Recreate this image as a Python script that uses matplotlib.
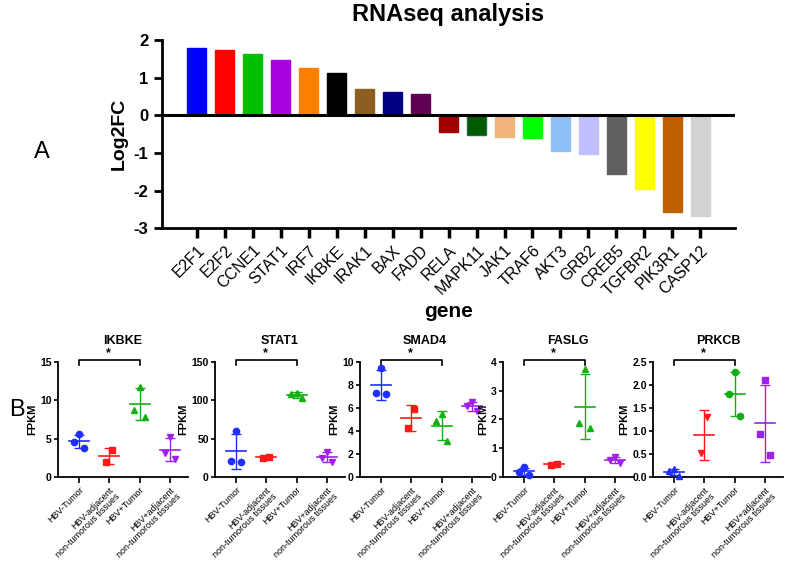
import numpy as np
import matplotlib
matplotlib.use("Agg")
import matplotlib.pyplot as plt
import matplotlib.transforms as mtransforms

plt.rcParams['font.family'] = ['Liberation Sans', 'DejaVu Sans']
plt.rcParams['axes.unicode_minus'] = False

# panel A data
genes = ['E2F1', 'E2F2', 'CCNE1', 'STAT1', 'IRF7', 'IKBKE', 'IRAK1', 'BAX', 'FADD',
         'RELA', 'MAPK11', 'JAK1', 'TRAF6', 'AKT3', 'GRB2', 'CREB5', 'TGFBR2', 'PIK3R1', 'CASP12']
log2fc = [1.80, 1.73, 1.62, 1.47, 1.27, 1.12, 0.70, 0.61, 0.57,
          -0.45, -0.53, -0.58, -0.60, -0.95, -1.02, -1.55, -1.95, -2.57, -2.68]
bar_colors = ['#0000ff', '#ff0000', '#00bf00', '#a800e0', '#ff8000', '#000000', '#8c5e22',
              '#000080', '#600050', '#a00000', '#005a00', '#f0b47c', '#00ff00', '#90c0f8',
              '#c0c0ff', '#606060', '#ffff00', '#c06000', '#d3d3d3']

# panel B data (FPKM)
groups = ['HBV-Tumor', 'HBV-adjacent\nnon-tumorous tissues', 'HBV+Tumor',
          'HBV+adjacent\nnon-tumorous tissues']
ikbke = [[5.6, 4.5, 3.8], [3.5, 2.0], [11.8, 8.8, 7.8], [5.2, 3.1, 2.4]]
stat1 = [[60, 21, 20], [26, 25], [110, 108, 103], [33, 25, 20]]
smad4 = [[9.5, 7.3, 7.2], [5.95, 4.3], [5.45, 4.87, 3.1], [6.5, 6.15, 5.75]]
faslg = [[0.33, 0.19, 0.08], [0.45, 0.43], [3.74, 1.89, 1.69], [0.69, 0.58, 0.5]]
prkcb = [[0.17, 0.12, 0.03], [1.30, 0.53], [2.28, 1.80, 1.33], [2.1, 0.94, 0.47]]

fig = plt.figure(figsize=(7.89, 5.65), dpi=100)

# ---------- A ----------
ax = fig.add_axes([0.205, 0.596, 0.727, 0.333])
x = np.arange(len(genes))
edges = list(bar_colors)
edges[10] = '#1e6b40'
ax.bar(x, log2fc, width=0.68, color=bar_colors, edgecolor=edges, linewidth=1)
ax.axhline(0, color='black', lw=2.2, zorder=3)
ax.set_xlim(-1.25, len(genes) - 1 + 1.25)
ax.set_ylim(-3, 2)
ax.set_yticks([-3, -2, -1, 0, 1, 2])
ax.set_xticks(x)
ax.set_xticklabels(genes, rotation=45, ha='right', rotation_mode='anchor',
                   fontsize=11.5)
for lab in ax.get_yticklabels():
    lab.set_fontweight('bold')
ax.tick_params(axis='y', labelsize=12, width=2, length=6)
ax.tick_params(axis='x', width=2.5, length=7)
for s in ['top', 'right']:
    ax.spines[s].set_visible(False)
for s in ['left', 'bottom']:
    ax.spines[s].set_linewidth(2)
ax.set_ylabel('Log2FC', fontsize=14, fontweight='bold', labelpad=4)
ax.text(0.5, -0.44, 'gene', transform=ax.transAxes, ha='center', va='center',
        fontsize=15, fontweight='bold')
fig.text(0.568, 0.994, 'RNAseq analysis', ha='center', va='top',
         fontsize=17, fontweight='bold')
fig.text(0.053, 1 - 152 / 565, 'A', fontsize=17, ha='center', va='center')

# ---------- B ----------
panels = [('IKBKE', ikbke, [0, 5, 10, 15], ['o', 's', '^', 'v']),
          ('STAT1', stat1, [0, 50, 100, 150], ['o', 's', '^', 'v']),
          ('SMAD4', smad4, [0, 2, 4, 6, 8, 10], ['o', 's', '^', 'v']),
          ('FASLG', faslg, [0, 1, 2, 3, 4], ['o', 's', '^', 'v']),
          ('PRKCB', prkcb, [0, 0.5, 1.0, 1.5, 2.0, 2.5], ['^', 'v', 'o', 's'])]
grp_colors = ['#1f2fff', '#ff1a1a', '#10b010', '#a020e8']
lefts = [58, 215, 360, 503, 653]

for (name, data, yt, mk), lx in zip(panels, lefts):
    bx = fig.add_axes([lx / 789, 0.1558, 130 / 789, 0.2035])
    for i, vals in enumerate(data):
        vals = np.array(vals, dtype=float)
        n = len(vals)
        offs = [0, -0.17, 0.17] if n == 3 else [0.1, -0.1]
        m = vals.mean()
        sd = vals.std(ddof=1)
        c = grp_colors[i]
        bx.plot(i + np.array(offs[:n]), vals, mk[i], color=c, ms=4.5, zorder=4,
                clip_on=False)
        bx.errorbar(i, m, yerr=sd, color=c, lw=1, capsize=3.5, capthick=1, zorder=3)
        bx.plot([i - 0.33, i + 0.33], [m, m], color=c, lw=1.2, zorder=3)
    bx.set_xlim(-0.7, 3.6)
    bx.set_ylim(yt[0], yt[-1])
    bx.set_yticks(yt)
    if name == 'PRKCB':
        bx.set_yticklabels(['%.1f' % v for v in yt])
    bx.set_xticks(range(4))
    bx.set_xticklabels(groups, rotation=45, ha='right', rotation_mode='anchor',
                       fontsize=6.5, linespacing=0.95)
    for lab in bx.get_yticklabels():
        lab.set_fontweight('bold')
    bx.tick_params(axis='y', labelsize=7.5, width=1.2, length=3, pad=1.5)
    bx.tick_params(axis='x', width=1.2, length=4, pad=2)
    for s in ['top', 'right']:
        bx.spines[s].set_visible(False)
    for s in ['left', 'bottom']:
        bx.spines[s].set_linewidth(1.3)
    bx.set_ylabel('FPKM', fontsize=8, fontweight='bold', labelpad=2)
    bx.text(0.5, 1.18, name, transform=bx.transAxes, ha='center', va='center',
            fontsize=9, fontweight='bold')
    tr = mtransforms.blended_transform_factory(bx.transData, bx.transAxes)
    bx.plot([0, 0, 2, 2], [0.975, 1.02, 1.02, 0.975], color='black', lw=1.2,
            transform=tr, clip_on=False)
    bx.text(0.95, 1.08, '*', transform=tr, ha='center', va='center',
            fontsize=9, fontweight='bold')

fig.text(0.022, 1 - 410 / 565, 'B', fontsize=17, ha='center', va='center')

fig.savefig('out.png', dpi=100)
